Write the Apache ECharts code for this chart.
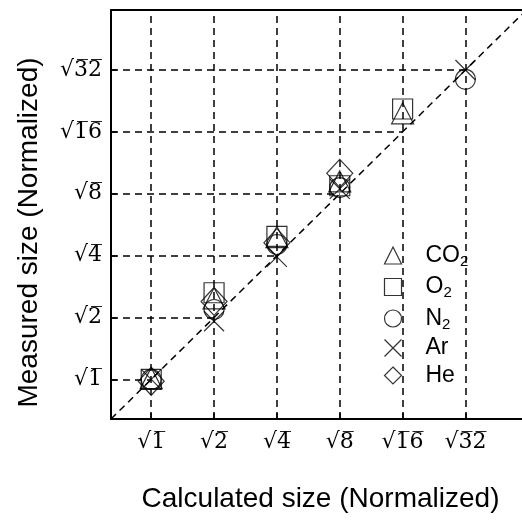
<!DOCTYPE html>
<html>
<head>
<meta charset="utf-8">
<script src="https://cdn.jsdelivr.net/npm/echarts@6/dist/echarts.min.js"></script>
<style>
  html, body { margin: 0; padding: 0; background: #fff; }
  #chart { width: 522px; height: 520px; }
</style>
</head>
<body>
<div id="chart"></div>
<script>
// tick positions (log2 of size^2) and their labels
const ticks = [0, 1, 2, 3, 4, 5]
const tickLabels = ['\u221A1\u0305', '\u221A2\u0305', '\u221A4\u0305', '\u221A8\u0305', '\u221A1\u03056\u0305', '\u221A3\u03052\u0305']

const co2X = [0, 1, 2, 3, 4]
const co2Y = [0.02, 1.31, 2.30, 3.20, 4.30]
const o2X = [0, 1, 2, 3, 4]
const o2Y = [0.0, 1.40, 2.31, 3.13, 4.37]
const n2X = [0, 1, 2, 3, 5]
const n2Y = [0.0, 1.13, 2.18, 3.10, 4.85]
const arX = [0, 1, 2, 3, 5]
const arY = [0.0, 0.94, 1.98, 3.08, 5.0]
const heX = [0, 1, 2, 3]
const heY = [-0.03, 1.26, 2.21, 3.33]

const xMin = -0.64, xMax = 5.9
const yMin = -0.64, yMax = 5.97

const pair = (xs, ys) => xs.map((x, i) => [x, ys[i]])

const sansFont = '"Liberation Sans", Arial, sans-serif'
const serifFont = '"DejaVu Serif", serif'
const dash = { type: [7, 5], color: '#000', width: 1.5 }
const crossPath = 'path://M0,0L10,10M10,0L0,10'

const chart = echarts.init(document.getElementById('chart'))

const gases = [
  { name: 'CO2', label: '{a|CO}{s|2}', symbol: 'triangle', size: [22, 21], data: pair(co2X, co2Y) },
  { name: 'O2', label: '{a|O}{s|2}', symbol: 'rect', size: 20, data: pair(o2X, o2Y) },
  { name: 'N2', label: '{a|N}{s|2}', symbol: 'circle', size: 20, data: pair(n2X, n2Y) },
  { name: 'Ar', label: '{a|Ar}', symbol: crossPath, size: 20, data: pair(arX, arY) },
  { name: 'He', label: '{a|He}', symbol: 'diamond', size: [26, 28], data: pair(heX, heY) }
]

const guideLines = []
ticks.forEach(t => {
  guideLines.push({ xAxis: t })
  guideLines.push([{ coord: [xMin, t] }, { coord: [t, t] }])
})
guideLines.push([{ coord: [yMin, yMin] }, { coord: [xMax, xMax] }])

const markerStyle = { color: 'none', borderColor: '#000', borderWidth: 1.2 }

const tickLabelStyle = {
  customValues: ticks,
  fontSize: 22,
  color: '#000',
  fontFamily: serifFont,
  formatter: v => tickLabels[ticks.indexOf(v)]
}

const option = {
  animation: false,
  grid: { left: 111, right: 0, top: 10, bottom: 101 },
  xAxis: [
    {
      type: 'value',
      min: xMin,
      max: xMax,
      name: 'Calculated size (Normalized)',
      nameLocation: 'middle',
      nameGap: 66,
      nameTextStyle: { fontSize: 28, color: '#000', fontFamily: sansFont, padding: [0, 0, 0, 8] },
      axisLine: { onZero: false, lineStyle: { color: '#000', width: 2 } },
      axisTick: { inside: true, length: 6, customValues: ticks, lineStyle: { color: '#000', width: 1.5 } },
      axisLabel: { ...tickLabelStyle, margin: 12 },
      splitLine: { show: false }
    },
    {
      type: 'value',
      position: 'top',
      min: xMin,
      max: xMax,
      axisLine: { show: true, onZero: false, lineStyle: { color: '#000', width: 2 } },
      axisTick: { show: false },
      axisLabel: { show: false },
      splitLine: { show: false }
    }
  ],
  yAxis: {
    type: 'value',
    min: yMin,
    max: yMax,
    name: 'Measured size (Normalized)',
    nameLocation: 'middle',
    nameGap: 68,
    nameTextStyle: { fontSize: 28, color: '#000', fontFamily: sansFont, padding: [0, 36, 0, 0] },
    axisLine: { show: true, onZero: false, lineStyle: { color: '#000', width: 2 } },
    axisTick: { inside: true, length: 6, customValues: ticks, lineStyle: { color: '#000', width: 1.5 } },
    axisLabel: { ...tickLabelStyle, margin: 9 },
    splitLine: { show: false }
  },
  legend: {
    orient: 'vertical',
    left: 370,
    top: 233,
    padding: [9, 10, 0, 12],
    backgroundColor: '#fff',
    itemWidth: 17,
    itemHeight: 17,
    itemGap: 4.5,
    data: gases.map(g => g.name),
    formatter: name => gases.find(g => g.name === name).label,
    itemStyle: markerStyle,
    textStyle: {
      padding: [0, 0, 0, 19],
      color: '#000',
      rich: {
        a: { fontSize: 23, lineHeight: 24, fontFamily: sansFont, color: '#000' },
        s: { fontSize: 15, lineHeight: 12, padding: [12, 0, 0, 0], fontFamily: sansFont, color: '#000' }
      }
    }
  },
  series: [
    {
      name: 'guides',
      type: 'line',
      data: [],
      silent: true,
      markLine: {
        silent: true,
        symbol: ['none', 'none'],
        label: { show: false },
        lineStyle: dash,
        data: guideLines
      }
    },
    ...gases.map(g => ({
      name: g.name,
      type: 'scatter',
      symbol: g.symbol,
      symbolSize: g.size,
      itemStyle: markerStyle,
      z: 3,
      data: g.data
    }))
  ]
}

chart.setOption(option)
</script>
</body>
</html>
